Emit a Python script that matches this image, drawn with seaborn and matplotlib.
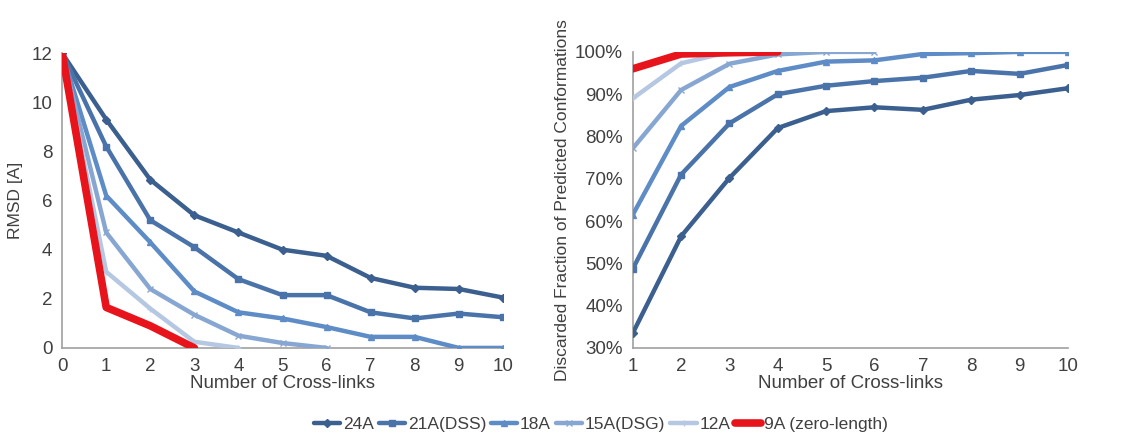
import matplotlib
matplotlib.use("Agg")
import matplotlib.pyplot as plt
import numpy as np
import pandas as pd
import seaborn as sns
from matplotlib.ticker import PercentFormatter

# RMSD vs number of cross-links (left panel)
rmsd_x = list(range(0, 11))
rmsd_24a = [12, 9.3, 6.85, 5.4, 4.7, 4.0, 3.75, 2.85, 2.45, 2.4, 2.05]
rmsd_21a = [12, 8.2, 5.2, 4.1, 2.8, 2.15, 2.15, 1.45, 1.2, 1.4, 1.25]
rmsd_18a = [12, 6.2, 4.3, 2.3, 1.45, 1.2, 0.85, 0.45, 0.45, 0.0, 0.0]
rmsd_15a = [12, 4.7, 2.4, 1.35, 0.5, 0.2, 0.0]
rmsd_12a = [12, 3.1, 1.6, 0.25, 0.0]
rmsd_9a = [12, 1.65, 0.9, 0.0]

# discarded fraction (%) vs number of cross-links (right panel)
disc_x = list(range(1, 11))
disc_24a = [33.5, 56.4, 70.2, 82.0, 86.0, 86.9, 86.3, 88.7, 89.8, 91.4]
disc_21a = [48.7, 71.0, 83.1, 90.0, 92.0, 93.1, 93.9, 95.5, 94.8, 96.9]
disc_18a = [61.5, 82.5, 91.7, 95.5, 97.7, 98.0, 99.5, 99.7, 100, 100]
disc_15a = [77.2, 91.0, 97.2, 99.4, 100, 100]
disc_12a = [89.0, 97.3, 100, 100]
disc_9a = [96.0, 99.5, 99.8, 100]

labels = ["24A", "21A(DSS)", "18A", "15A(DSG)", "12A", "9A (zero-length)"]
colors = ["#3b5f8e", "#4a73aa", "#5d8cc6", "#87a7d2", "#b6c7e2", "#e8141c"]
markers = ["D", "s", "^", "x", "+", None]

rmsd = [rmsd_24a, rmsd_21a, rmsd_18a, rmsd_15a, rmsd_12a, rmsd_9a]
disc = [disc_24a, disc_21a, disc_18a, disc_15a, disc_12a, disc_9a]

sns.set_style("white")
plt.rcParams["font.family"] = ["Liberation Sans", "DejaVu Sans"]
text_c = "#404040"

fig = plt.figure(figsize=(11.3, 4.36), dpi=100)
ax1 = fig.add_axes([0.055, 0.202, 0.39, 0.676])
ax2 = fig.add_axes([0.560, 0.202, 0.385, 0.679])


def draw(ax, xs, series):
    for vals, lab, c, m in zip(series, labels, colors, markers):
        is_red = m is None
        sns.lineplot(x=xs[:len(vals)], y=vals, ax=ax, color=c, label=lab,
                     linewidth=5.5 if is_red else 3.2, marker=m,
                     markersize=4, markeredgewidth=1.0, markeredgecolor=c,
                     legend=False, zorder=5 if is_red else 3)


draw(ax1, rmsd_x, rmsd)
draw(ax2, disc_x, disc)

ax1.set_xlim(0, 10)
ax1.set_ylim(0, 12)
ax1.set_xticks(range(0, 11))
ax1.set_yticks(range(0, 13, 2))
ax1.set_ylabel("RMSD [A]", fontsize=12.5, color=text_c, labelpad=6)

ax2.set_xlim(1, 10)
ax2.set_ylim(30, 100)
ax2.set_xticks(range(1, 11))
ax2.set_yticks(range(30, 101, 10))
ax2.yaxis.set_major_formatter(PercentFormatter(decimals=0))
ax2.set_ylabel("Discarded Fraction of Predicted Conformations",
               fontsize=12.5, color=text_c, labelpad=4)

for ax in (ax1, ax2):
    ax.set_xlabel("Number of Cross-links", fontsize=13.5, color=text_c, labelpad=0)
    ax.tick_params(axis="both", labelsize=13.5, colors=text_c, length=4,
                   width=1, direction="out", color="#a0a0a0", pad=3)
    for s in ("top", "right"):
        ax.spines[s].set_visible(False)
    for s in ("left", "bottom"):
        ax.spines[s].set_color("#a0a0a0")
        ax.spines[s].set_linewidth(1.2)
    ax.grid(False)
    for lbl in ax.get_xticklabels() + ax.get_yticklabels():
        lbl.set_color(text_c)

handles, leg_labels = ax1.get_legend_handles_labels()
fig.legend(handles, leg_labels, loc="center", bbox_to_anchor=(0.532, 0.027),
           ncol=6, frameon=False, fontsize=12.5, handlelength=1.5,
           handletextpad=0.15, columnspacing=0.3, labelcolor=text_c)

fig.savefig("out.png", dpi=100)
